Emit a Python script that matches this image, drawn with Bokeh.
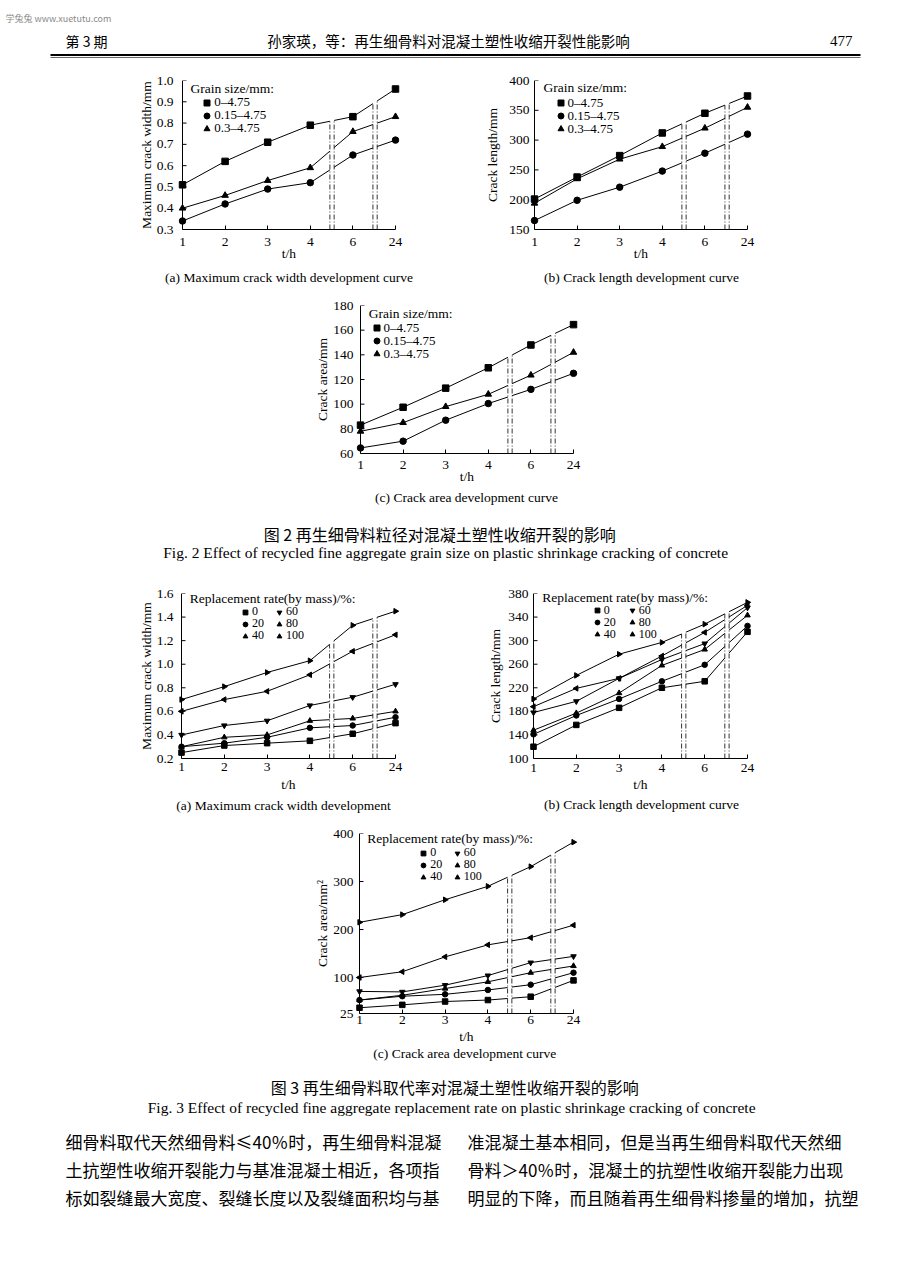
import math
from bokeh.plotting import figure
from bokeh.models import Range1d, FixedTicker, Legend, LegendItem, Label, PrintfTickFormatter, Span
from bokeh.layouts import column, row
from bokeh.embed import file_html
from bokeh.resources import INLINE
from bokeh.core.properties import value

# ---------------- data ----------------
x_labels = ["1", "2", "3", "4", "6", "24"]
x_pos = [0, 1, 2, 3, 4, 5]
breaks = [(3.46, 3.56), (4.47, 4.57)]

grain_sizes = ["0–4.75", "0.15–4.75", "0.3–4.75"]
# Fig.2 (a) maximum crack width / mm
f2a_0_475 = [0.51, 0.62, 0.71, 0.79, 0.83, 0.96]
f2a_015_475 = [0.34, 0.42, 0.49, 0.52, 0.65, 0.72]
f2a_03_475 = [0.40, 0.46, 0.53, 0.59, 0.76, 0.83]
# Fig.2 (b) crack length / mm
f2b_0_475 = [201, 238, 274, 312, 345, 374]
f2b_015_475 = [165, 199, 221, 248, 278, 310]
f2b_03_475 = [194, 235, 268, 289, 320, 355]
# Fig.2 (c) crack area / mm
f2c_0_475 = [83, 97.5, 113, 129.5, 148, 164.5]
f2c_015_475 = [64.5, 70, 87, 100.5, 112, 125]
f2c_03_475 = [78, 85, 98, 108, 123.5, 142]

rates = ["0", "20", "40", "60", "80", "100"]
# Fig.3 (a) maximum crack width / mm
f3a_0 = [0.25, 0.31, 0.33, 0.35, 0.41, 0.50]
f3a_20 = [0.30, 0.33, 0.38, 0.46, 0.48, 0.55]
f3a_40 = [0.30, 0.38, 0.40, 0.52, 0.54, 0.60]
f3a_60 = [0.40, 0.48, 0.52, 0.65, 0.72, 0.83]
f3a_80 = [0.60, 0.70, 0.77, 0.91, 1.11, 1.25]
f3a_100 = [0.70, 0.81, 0.93, 1.03, 1.33, 1.45]
# Fig.3 (b) crack length / mm
f3b_0 = [120, 157, 186, 220, 231, 315]
f3b_20 = [141, 173, 201, 231, 259, 325]
f3b_40 = [148, 177, 211, 258, 285, 343]
f3b_60 = [178, 197, 236, 268, 295, 356]
f3b_80 = [188, 219, 236, 274, 314, 360]
f3b_100 = [201, 241, 277, 297, 328, 365]
# Fig.3 (c) crack area / mm2
f3c_0 = [37, 43, 50, 53, 60, 94]
f3c_20 = [53, 61, 65, 74, 85, 110]
f3c_40 = [53, 63, 77, 91, 110, 124]
f3c_60 = [71, 70, 84, 104, 131, 144]
f3c_80 = [100, 112, 143, 168, 183, 209]
f3c_100 = [215, 231, 262, 290, 331, 382]

yt_2a = [0.3, 0.4, 0.5, 0.6, 0.7, 0.8, 0.9, 1.0]
yt_2b = [150, 200, 250, 300, 350, 400]
yt_2c = [60, 80, 100, 120, 140, 160, 180]
yt_3a = [0.2, 0.4, 0.6, 0.8, 1.0, 1.2, 1.4, 1.6]
yt_3b = [100, 140, 180, 220, 260, 300, 340, 380]
yt_3c = [25, 100, 200, 300, 400]

# ---------------- style ----------------
SERIF = "Liberation Serif"
CJK = "Noto Sans CJK SC"
PAD = 8

M2 = [("square", 0.0), ("circle", 0.0), ("triangle", 0.0)]
M3 = [("square", 0.0), ("circle", 0.0), ("triangle", 0.0),
      ("inverted_triangle", 0.0), ("triangle", math.pi / 2), ("triangle", -math.pi / 2)]


def gapped(ys):
    gx, gy = [], []
    for i in range(len(x_pos) - 1):
        x0, x1 = x_pos[i], x_pos[i + 1]
        y0, y1 = ys[i], ys[i + 1]
        gx.append(x0)
        gy.append(y0)
        for bl, br in breaks:
            if x0 < bl and br < x1:
                yl = y0 + (y1 - y0) * (bl - x0) / (x1 - x0)
                yr = y0 + (y1 - y0) * (br - x0) / (x1 - x0)
                gx += [bl, float("nan"), br]
                gy += [yl, float("nan"), yr]
    gx.append(x_pos[-1])
    gy.append(ys[-1])
    return gx, gy


def interp(ys, xx):
    i = int(math.floor(xx))
    t = xx - i
    return ys[i] + (ys[i + 1] - ys[i]) * t


def make_chart(c, page_left, row_top, row_bottom):
    ppu = c["w"] / 5.0
    padd = PAD / ppu
    frame_left = c["left"] - PAD
    lb = frame_left - page_left
    fw = c["w"] + 2 * PAD
    rb = 4
    tb = c["top"] - row_top
    bb = row_bottom - (c["top"] + c["h"])
    p = figure(width=lb + fw + rb, height=row_bottom - row_top,
               min_border_left=lb, min_border_right=rb, min_border_top=tb, min_border_bottom=bb,
               x_range=Range1d(-padd, 5 + padd), y_range=Range1d(c["ymin"], c["ymax"]),
               output_backend="svg", toolbar_location=None, tools="")
    p.outline_line_color = None
    p.grid.visible = False
    xa = p.xaxis[0]
    ya = p.yaxis[0]
    xa.ticker = FixedTicker(ticks=x_pos)
    xa.major_label_overrides = {i: lab for i, lab in zip(x_pos, x_labels)}
    xa.bounds = (0, 5)
    xa.axis_label = "t/h"
    xa.major_label_standoff = c["xls"]
    xa.axis_label_standoff = c["xas"]
    xa.major_tick_in = 4
    xa.major_tick_out = 0
    xa.axis_line_color = "black"
    xa.major_tick_line_color = "black"
    ya.ticker = FixedTicker(ticks=c["yticks"])
    ya.formatter = PrintfTickFormatter(format=c["fmt"])
    ya.axis_label = c["ylabel"]
    ya.major_label_standoff = c["ygap"] - PAD
    ya.axis_label_standoff = c["yas"]
    ya.axis_line_color = None
    ya.major_tick_line_color = None
    ya.major_tick_in = 0
    ya.major_tick_out = 0
    for ax in (xa, ya):
        ax.minor_tick_in = 0
        ax.minor_tick_out = 0
        ax.minor_tick_line_color = None
        ax.major_label_text_font = SERIF
        ax.major_label_text_font_size = "13.5px"
        ax.major_label_text_color = "black"
        ax.axis_label_text_font = SERIF
        ax.axis_label_text_font_size = "13.5px"
        ax.axis_label_text_font_style = "normal"
        ax.axis_label_text_color = "black"

    # visible y axis line at the first time point, with inward ticks
    p.add_layout(Span(location=0, dimension="height", line_color="black", line_width=1))
    yt = c["yticks"]
    p.segment(x0=[0] * len(yt), y0=yt, x1=[4.0 / ppu] * len(yt), y1=yt,
              line_color="black", line_width=1)

    series = c["series"]
    # axis-break lines
    for bl, br in breaks:
        tops = [max(interp(s, xx) for s in series) for xx in (bl, br)]
        p.segment(x0=[bl, br], y0=[c["ymin"], c["ymin"]], x1=[bl, br], y1=tops,
                  line_color="black", line_width=0.8, line_dash="5 2 1 2")
    rends = []
    for s, (mk, ang) in zip(series, c["markers"]):
        gx, gy = gapped(s)
        p.line(gx, gy, line_color="black", line_width=1)
        r = p.scatter(x_pos, s, marker=mk, angle=ang, size=c["msize"],
                      fill_color="black", line_color="black")
        rends.append(r)

    # legend title
    tx = (c["title_xy"][0] - c["left"]) / ppu
    ty = c["ymax"] - (c["title_xy"][1] - c["top"]) * (c["ymax"] - c["ymin"]) / c["h"]
    p.add_layout(Label(x=tx, y=ty, text=c["title"], text_font=SERIF, text_font_size=c["tfs"],
                       text_baseline="middle", text_align="left", text_color="black"))
    G = c["G"]
    for col in c["cols"]:
        item_left = col["mx"] - G / 2.0
        vx = item_left - frame_left
        for j, k in enumerate(col["idx"]):
            cy = col["my"] + j * c["pitch"]
            vy = c["h"] - (cy - c["top"]) - c["ih"] / 2.0
            lg = Legend(items=[LegendItem(label=c["labels"][k], renderers=[rends[k]])],
                        location=(vx, vy), orientation="vertical",
                        glyph_width=G, glyph_height=G, label_height=G, label_standoff=c["ls"],
                        spacing=0, padding=0, margin=0, border_line_alpha=0,
                        background_fill_alpha=0, label_text_font=SERIF,
                        label_text_font_size=c["lfs"], label_text_color="black")
            p.add_layout(lg)
    return p, page_left + lb + fw + rb


base2 = dict(markers=M2, labels=grain_sizes, title="Grain size/mm:", msize=6.5, G=15, ls=0,
             pitch=13, ih=15, lfs="13px", tfs="13.5px")
base3 = dict(markers=M3, labels=rates, title="Replacement rate(by mass)/%:", msize=5.5, G=12, ls=1,
             pitch=12, ih=14, lfs="12px", tfs="13.5px")

c2a = dict(base2, left=182, top=80, w=213, h=149, ymin=0.3, ymax=1.0, yticks=yt_2a, fmt="%.1f",
           ylabel="Maximum crack width/mm", series=[f2a_0_475, f2a_015_475, f2a_03_475],
           xls=8, xas=-3, ygap=9, yas=0, title_xy=(190, 88),
           cols=[dict(mx=206.7, my=102.5, idx=[0, 1, 2])])
c2b = dict(base2, left=534, top=80, w=213, h=149, ymin=150, ymax=400, yticks=yt_2b, fmt="%d",
           ylabel="Crack length/mm", series=[f2b_0_475, f2b_015_475, f2b_03_475],
           xls=8, xas=-3, ygap=5, yas=6, title_xy=(543, 87.3),
           cols=[dict(mx=560, my=103, idx=[0, 1, 2])])
c2c = dict(base2, left=360, top=305, w=213, h=148, ymin=60, ymax=180, yticks=yt_2c, fmt="%d",
           ylabel="Crack area/mm", series=[f2c_0_475, f2c_015_475, f2c_03_475],
           xls=7, xas=-3, ygap=7, yas=0, title_xy=(368.3, 313.3),
           cols=[dict(mx=376, my=328.3, idx=[0, 1, 2])])
c3a = dict(base3, left=181, top=593, w=214, h=165, ymin=0.2, ymax=1.6, yticks=yt_3a, fmt="%.1f",
           ylabel="Maximum crack width/mm", series=[f3a_0, f3a_20, f3a_40, f3a_60, f3a_80, f3a_100],
           xls=4, xas=3, ygap=8, yas=0, title_xy=(189.3, 597.8),
           cols=[dict(mx=245, my=612.3, idx=[0, 1, 2]), dict(mx=279, my=612.3, idx=[3, 4, 5])])
c3b = dict(base3, left=533, top=593, w=214, h=165, ymin=100, ymax=380, yticks=yt_3b, fmt="%d",
           ylabel="Crack length/mm", series=[f3b_0, f3b_20, f3b_40, f3b_60, f3b_80, f3b_100],
           xls=5, xas=2, ygap=5, yas=2, title_xy=(541.7, 597.2),
           cols=[dict(mx=596.7, my=610.8, idx=[0, 1, 2]), dict(mx=631.7, my=610.8, idx=[3, 4, 5])])
c3c = dict(base3, left=359, top=833, w=214, h=180, ymin=25, ymax=400, yticks=yt_3c, fmt="%d",
           ylabel="Crack area/mm²", series=[f3c_0, f3c_20, f3c_40, f3c_60, f3c_80, f3c_100],
           xls=2, xas=2, ygap=6, yas=0, title_xy=(366.7, 837.8),
           cols=[dict(mx=423.3, my=853, idx=[0, 1, 2]), dict(mx=456.7, my=853, idx=[3, 4, 5])])


def strip(top, bottom, items, rules=()):
    p = figure(width=920, height=bottom - top, x_range=Range1d(0, 920), y_range=Range1d(bottom, top),
               min_border=0, x_axis_type=None, y_axis_type=None,
               output_backend="svg", toolbar_location=None, tools="")
    p.outline_line_color = None
    p.grid.visible = False
    for (x0, x1, y, lw) in rules:
        p.line([x0, x1], [y, y], line_color="black", line_width=lw)
    for (txt, x, y, font, size, align, color) in items:
        p.text(x=[x], y=[y], text=[txt], text_font=value(font), text_font_size=value(size),
               text_align=align, text_baseline="middle", text_color=color)
    return p


header = strip(0, 70, [
    ("学兔兔 www.xuetutu.com", 5, 18, CJK, "9px", "left", "#8a8a8a"),
    ("第 3 期", 65, 40, CJK, "14px", "left", "black"),
    ("孙家瑛，等：再生细骨料对混凝土塑性收缩开裂性能影响", 448, 40, CJK, "14.5px", "center", "black"),
    ("477", 852, 40, SERIF, "15px", "right", "black"),
], rules=[(50, 860, 54.5, 2), (50, 860, 57, 0.6)])

f2a, r1 = make_chart(c2a, 0, 70, 270)
f2b, _ = make_chart(c2b, r1, 70, 270)

s_c1 = strip(270, 290, [
    ("(a) Maximum crack width development curve", 288.5, 276.5, SERIF, "13.5px", "center", "black"),
    ("(b) Crack length development curve", 641, 276.5, SERIF, "13.5px", "center", "black"),
])

f2c, _ = make_chart(c2c, 0, 290, 489)

s_d = strip(489, 570, [
    ("(c) Crack area development curve", 466, 497, SERIF, "13.5px", "center", "black"),
    ("图 2  再生细骨料粒径对混凝土塑性收缩开裂的影响", 441, 533, CJK, "16px", "center", "black"),
    ("Fig. 2   Effect of recycled fine aggregate grain size on plastic shrinkage cracking of concrete",
     449, 552, SERIF, "15.5px", "center", "black"),
])

f3a, r3 = make_chart(c3a, 0, 570, 796)
f3b, _ = make_chart(c3b, r3, 570, 796)

s_e1 = strip(796, 820, [
    ("(a) Maximum crack width development", 283, 805, SERIF, "13.5px", "center", "black"),
    ("(b) Crack length development curve", 641, 804, SERIF, "13.5px", "center", "black"),
])

f3c, _ = make_chart(c3c, 0, 820, 1046)

s_g = strip(1046, 1280, [
    ("(c)  Crack area development curve", 466, 1053, SERIF, "13.5px", "center", "black"),
    ("图 3  再生细骨料取代率对混凝土塑性收缩开裂的影响", 456, 1086, CJK, "16px", "center", "black"),
    ("Fig. 3   Effect of recycled fine aggregate replacement rate on plastic shrinkage cracking of concrete",
     455, 1107, SERIF, "15.5px", "center", "black"),
    ("细骨料取代天然细骨料≤40％时，再生细骨料混凝", 65, 1141, CJK, "17px", "left", "black"),
    ("土抗塑性收缩开裂能力与基准混凝土相近，各项指", 65, 1169, CJK, "17px", "left", "black"),
    ("标如裂缝最大宽度、裂缝长度以及裂缝面积均与基", 65, 1197, CJK, "17px", "left", "black"),
    ("准混凝土基本相同，但是当再生细骨料取代天然细", 467, 1141, CJK, "17px", "left", "black"),
    ("骨料＞40％时，混凝土的抗塑性收缩开裂能力出现", 467, 1169, CJK, "17px", "left", "black"),
    ("明显的下降，而且随着再生细骨料掺量的增加，抗塑", 467, 1197, CJK, "17px", "left", "black"),
])

layout = column(row(header), row(f2a, f2b), row(s_c1), row(f2c), row(s_d),
                row(f3a, f3b), row(s_e1), row(f3c), row(s_g))

open("out.html", "w").write(file_html(layout, INLINE))
